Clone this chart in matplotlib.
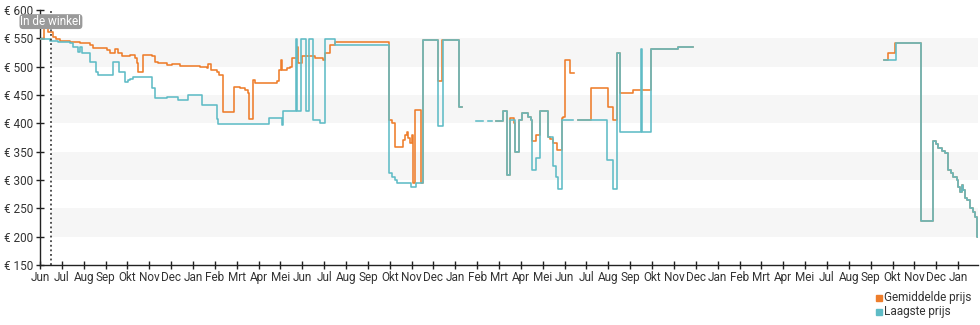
import numpy as np
import matplotlib
matplotlib.use("Agg")
import matplotlib.pyplot as plt

plt.rcParams['font.family'] = ['Roboto', 'DejaVu Sans']

nan = float('nan')

# x axis: months since first Jun tick
month_labels = ["Jun", "Jul", "Aug", "Sep", "Okt", "Nov", "Dec", "Jan", "Feb", "Mrt", "Apr", "Mei",
                "Jun", "Jul", "Aug", "Sep", "Okt", "Nov", "Dec", "Jan", "Feb", "Mrt", "Apr", "Mei",
                "Jun", "Jul", "Aug", "Sep", "Okt", "Nov", "Dec", "Jan", "Feb", "Mrt", "Apr", "Mei",
                "Jul", "Aug", "Sep", "Okt", "Nov", "Dec", "Jan"]
y_ticks = [150, 200, 250, 300, 350, 400, 450, 500, 550, 600]
band_ranges = [(200, 250), (300, 350), (400, 450), (500, 550)]
instore_month = 0.50
x_end = 42.91

# shared last stretch (both series identical after the drop)
tail_x = [40.311, 40.851, 40.988, 41.093, 41.249, 41.400, 41.523, 41.661, 41.779,
          41.935, 42.008, 42.086, 42.164, 42.237, 42.315, 42.420, 42.543, 42.694, 42.772, 42.850, 42.910]
tail_y = [228, 368, 364, 356, 351, 347, 318, 312, 306,
          300, 288, 279, 291, 282, 268, 265, 250, 244, 235, 200, 200]

# Laagste prijs (lowest price)
low_x = [0.000, 0.457, 0.823, 1.372, 1.510, 1.738, 1.830, 1.921, 2.287, 2.562, 2.653, 3.339, 3.614,
         3.888, 4.026, 4.117, 4.254, 5.110, 5.261, 5.796, 6.327, 6.784, 7.397, 8.097, 8.143, 10.476,
         11.057, 11.116, 11.711, 11.757, 11.926, 12.168, 12.319, 12.502, 12.809, 13.038, 13.495,
         15.979, 16.089, 16.240, 16.318, 16.972, 17.200, 17.534, 18.193, 18.422, 19.181, 19.305,
         19.945, 20.265, 20.494, 20.677, 20.860, 21.194, 21.377, 21.523, 21.729, 21.935, 22.072,
         22.337, 22.447, 22.493, 22.690, 22.873, 23.252, 23.481, 23.605, 23.710, 23.893, 24.396,
         24.625, 25.961, 26.199, 26.395, 26.555, 27.493, 27.553, 27.937, 29.186, 29.886,
         38.609, 39.158]
low_y = [548, 546, 544, 541, 535, 526, 535, 524, 509, 491, 485, 509, 491,
         473, 476, 479, 482, 462, 444, 447, 441, 450, 432, 408, 399, 409,
         397, 421, 548, 421, 548, 421, 548, 406, 400, 548, 538,
         312, 306, 300, 294, 288, 294, 547, 395, 547, 429, nan,
         404, nan, 404, nan, 404, 421, 309, 406, 350, 406, 419,
         412, 406, 318, 338, 421, 376, 324, 306, 285, 406, nan,
         406, 335, 285, 524, 385, 532, 385, 532, 534, nan,
         511, 541]

# Gemiddelde prijs (average price)
avg_x = [0.000, 0.183, 0.366, 0.595, 0.732, 0.915, 1.372, 1.830, 2.287, 2.425, 3.065, 3.202, 3.431,
         3.568, 3.751, 4.117, 4.346, 4.451, 4.497, 4.725, 5.110, 5.261, 5.412, 5.796, 6.025, 6.404,
         7.013, 7.319, 7.626, 7.671, 7.809, 8.083, 8.188, 8.394, 8.875, 9.149, 9.378, 9.529, 9.561,
         9.730, 9.835, 10.444, 10.828, 10.947, 11.011, 11.057, 11.285, 11.436, 11.514, 11.734,
         11.802, 11.971, 12.580, 12.960, 13.038, 13.266, 13.495, 15.979, 16.089, 16.240, 16.620,
         16.697, 16.775, 16.857, 16.926, 17.004, 17.050, 17.155, 17.415, 17.534, 18.193, 18.376,
         19.181, 19.305,
         20.860, 21.194, 21.377, 21.500, 21.697, 21.729, 21.935, 22.072, 22.337, 22.447, 22.493,
         22.690, 22.873, 23.252, 23.330, 23.481, 23.664, 23.865, 23.925, 24.016, 24.268, 24.428,
         24.625, 25.192, 25.997, 26.199, 26.395, 26.555, 27.113, 27.937, 29.186, 29.886,
         38.609, 38.806, 39.113]
avg_y = [548, 573, 562, 552, 548, 546, 544, 541, 538, 533, 529, 525, 531,
         524, 518, 521, 516, 506, 490, 521, 518, 509, 506, 503, 504, 502,
         501, 500, 497, 505, 494, 491, 486, 420, 465, 462, 458, 453, 407,
         476, 471, 472, 474, 494, 512, 494, 497, 500, 516, 535,
         506, 518, 515, 512, 524, 538, 543, 406, 400, 359, 371,
         380, 385, 375, 365, 380, 294, 424, 294, 547, 474, 547,
         429, nan,
         404, 421, 309, 409, 401, 350, 406, 419, 412, 406, 368,
         380, 421, 376, 373, 365, 353, 409, 412, 511, 488, nan,
         406, 463, 428, 406, 524, 453, 458, 532, 534, nan,
         511, 525, 541]

orange = '#ee7d2b'
teal = '#5fbcc6'

fig = plt.figure(figsize=(9.8, 3.25), dpi=100)
ax = fig.add_axes([40 / 980, 60 / 325, 938 / 980, 255 / 325])
ax.set_xlim(0, x_end)
ax.set_ylim(150, 600)

frac = instore_month / x_end
for lo, hi in band_ranges:
    ax.axhspan(lo, hi, xmin=frac, xmax=1, color='#f6f6f6', lw=0, zorder=0)

ax.plot(avg_x + tail_x, avg_y + tail_y, drawstyle='steps-post', color=orange, lw=1.15, zorder=3)
ax.plot(low_x + tail_x, low_y + tail_y, drawstyle='steps-post', color=teal, lw=1.15, zorder=4)

ax.axvline(instore_month, color='#222222', lw=1.1, ls=(0, (1.2, 1.8)), zorder=5)
ax.text(instore_month, 579.5, "In de winkel", ha='center', va='center', color='white',
        fontsize=8.5, zorder=6,
        bbox=dict(boxstyle='round,pad=0.08,rounding_size=0.3', fc='#9a9a9a', ec='none'))

for s in ['top', 'right']:
    ax.spines[s].set_visible(False)
for s in ['left', 'bottom']:
    ax.spines[s].set_color('#222222')
    ax.spines[s].set_linewidth(1.0)

ax.set_yticks(y_ticks)
ax.set_yticklabels([f"€ {v}" for v in y_ticks])
ax.set_xticks(range(len(month_labels)))
ax.set_xticklabels(month_labels)
ax.tick_params(axis='both', direction='inout', length=6, width=1.0, color='#222222',
               labelsize=8.5, labelcolor='#333333', pad=1)
ax.tick_params(axis='y', pad=2)

# legend
fig.patches.append(plt.Rectangle((876 / 980, 1 - 301 / 325), 6 / 980, 6 / 325,
                                 transform=fig.transFigure, color=orange, figure=fig))
fig.patches.append(plt.Rectangle((876 / 980, 1 - 315 / 325), 6 / 980, 6 / 325,
                                 transform=fig.transFigure, color=teal, figure=fig))
fig.text(884 / 980, 1 - 298 / 325, "Gemiddelde prijs", fontsize=8.5, color='#333333', va='center')
fig.text(884 / 980, 1 - 312 / 325, "Laagste prijs", fontsize=8.5, color='#333333', va='center')

fig.savefig('out.png', dpi=100)
